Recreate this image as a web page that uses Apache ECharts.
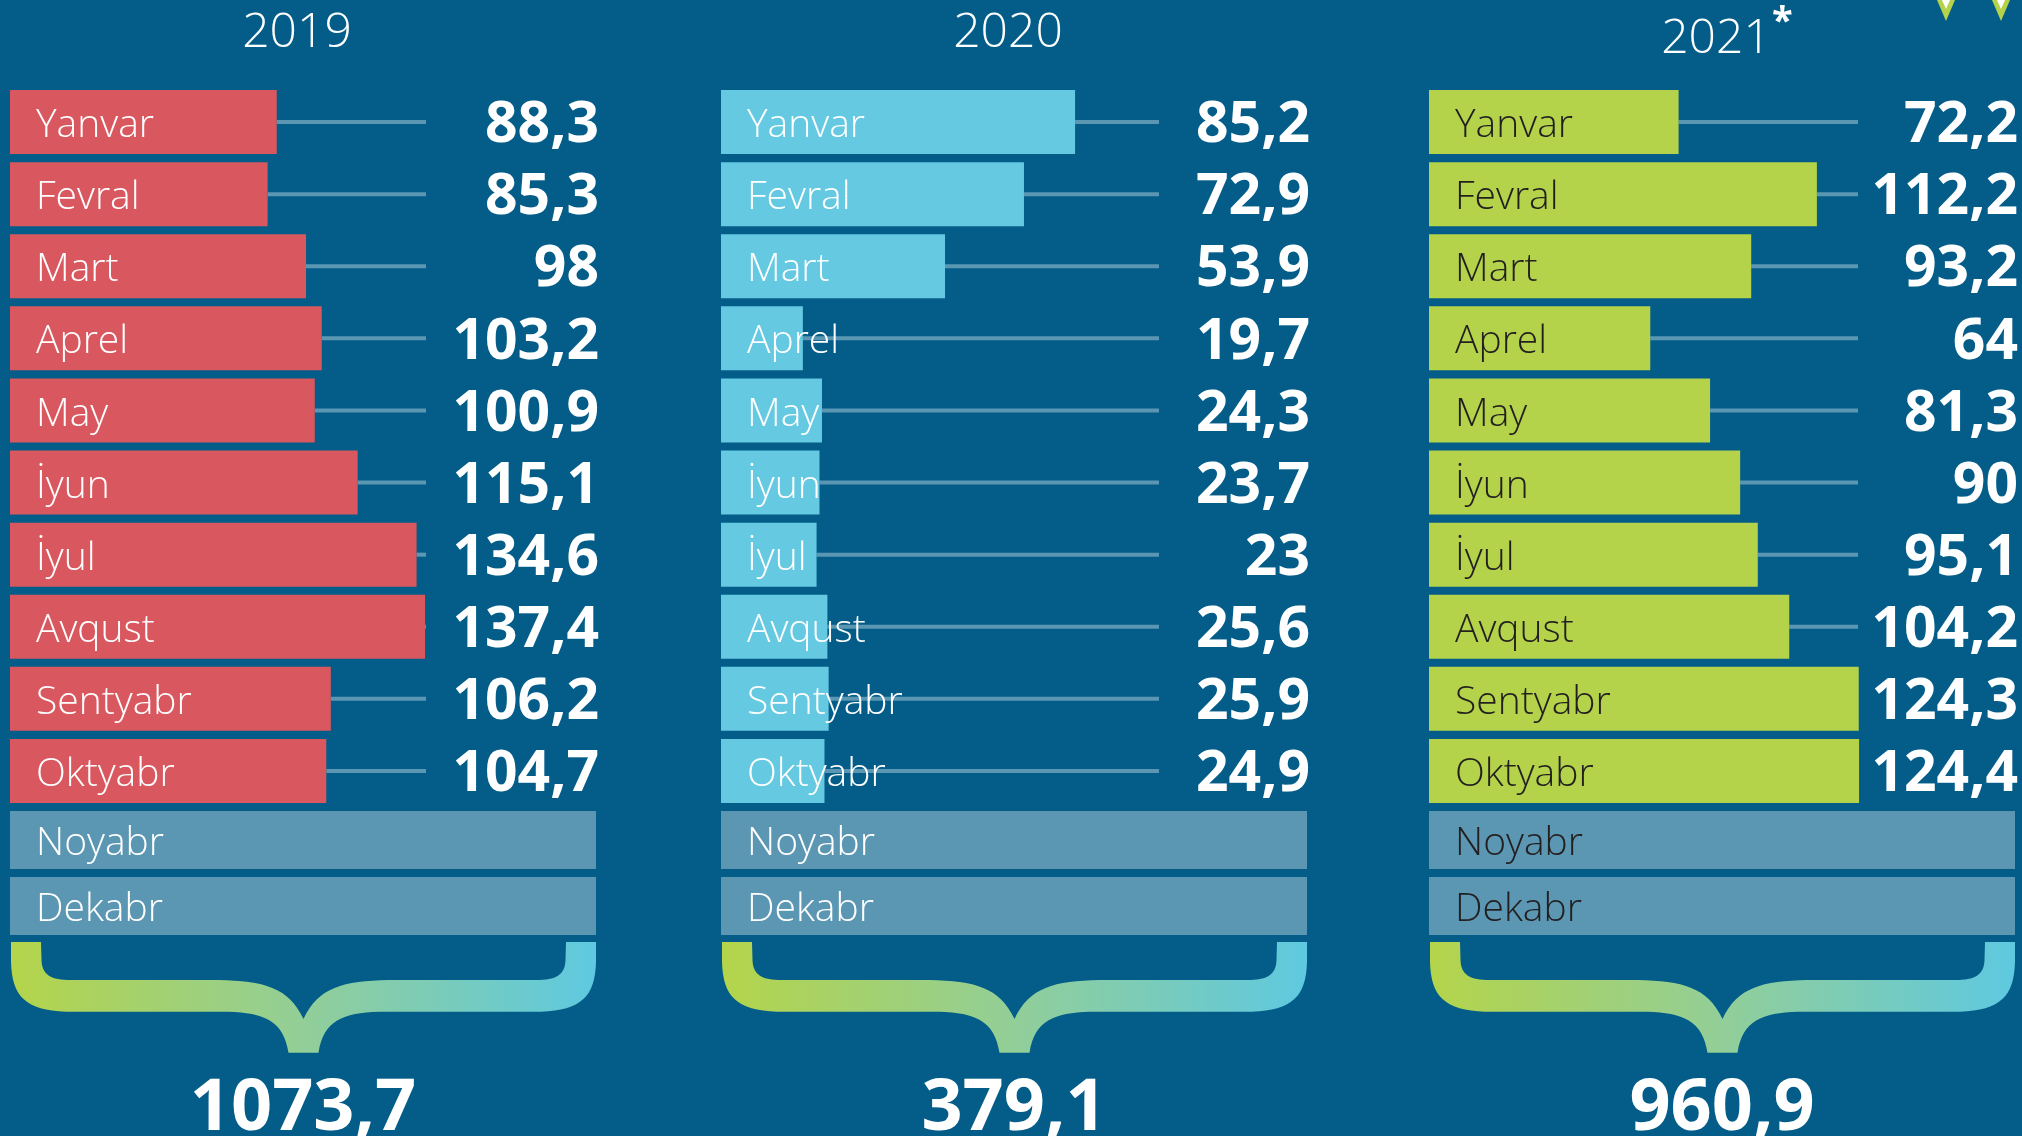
<!DOCTYPE html>
<html>
<head>
    <meta http-equiv="content-type" content="text/html;charset=utf-8" />
    <title>ECharts</title>
    <script src="https://cdn.jsdelivr.net/npm/echarts@6/dist/echarts.min.js"></script>
    <style>
        html, body { margin: 0; padding: 0; background: #035d88; }
    </style>
</head>
<body>
    <div id="main" style="width: 2022px;height:1136px;"></div>
    <script type="text/javascript">
        // data
        var months = ['Yanvar', 'Fevral', 'Mart', 'Aprel', 'May', 'İyun', 'İyul', 'Avqust', 'Sentyabr', 'Oktyabr'];
        var restMonths = ['Noyabr', 'Dekabr'];
        var years = ['2019', '2020', '2021'];
        var values2019 = [88.3, 85.3, 98, 103.2, 100.9, 115.1, 134.6, 137.4, 106.2, 104.7];
        var values2020 = [85.2, 72.9, 53.9, 19.7, 24.3, 23.7, 23, 25.6, 25.9, 24.9];
        var values2021 = [72.2, 112.2, 93.2, 64, 81.3, 90, 95.1, 104.2, 124.3, 124.4];
        var totals = [1073.7, 379.1, 960.9];

        // layout / style of the three panels
        var panels = [
            { left: 10, max: 194, gap: 170, color: '#d9585f', text: '#ffffff', values: values2019 },
            { left: 721, max: 141, gap: 148, color: '#64c9e1', text: '#ffffff', values: values2020 },
            { left: 1429, max: 169.5, gap: 157, color: '#b4d34a', text: '#231f20', values: values2021 }
        ];
        var W = 586;
        var restColor = '#5b97b3';
        var font = '"Open Sans", "Noto Sans", sans-serif';

        function fmt(v) { return String(v).replace('.', ','); }

        function bracePath(w) {
            var h = w / 2;
            return 'M' + (h - 15) + ',110.7 C' + (h - 20) + ',78 ' + (h - 40) + ',71 ' + (h - 75) + ',69.7 ' +
                'L55,69.7 C15,68 1,55 0,20 L0,0 L30,0 L30.5,18 C31,33 40,38 60,38 ' +
                'L' + (h - 85) + ',38 C' + (h - 40) + ',39 ' + (h - 15) + ',45 ' + h + ',77 ' +
                'C' + (h + 15) + ',45 ' + (h + 40) + ',39 ' + (h + 85) + ',38 ' +
                'L' + (w - 60) + ',38 C' + (w - 40) + ',38 ' + (w - 31) + ',33 ' + (w - 30.5) + ',18 ' +
                'L' + (w - 30) + ',0 L' + w + ',0 L' + w + ',20 ' +
                'C' + (w - 1) + ',55 ' + (w - 15) + ',68 ' + (w - 55) + ',69.7 ' +
                'L' + (h + 75) + ',69.7 C' + (h + 40) + ',71 ' + (h + 20) + ',78 ' + (h + 15) + ',110.7 Z';
        }

        var grids = [], xAxes = [], yAxes = [], series = [], graphics = [];

        panels.forEach(function (p, k) {
            var gMain = k * 2, gRest = k * 2 + 1;
            grids.push({ left: p.left, width: W, top: 86, height: 721 });
            grids.push({ left: p.left, width: W, top: 807, height: 132 });
            [gMain, gRest].forEach(function (g) {
                xAxes.push({ type: 'value', gridIndex: g, min: 0, max: p.max, show: false });
            });
            yAxes.push({ type: 'category', gridIndex: gMain, data: months, inverse: true, show: false });
            yAxes.push({ type: 'category', gridIndex: gRest, data: restMonths, inverse: true, show: false });

            var labelStyle = {
                show: true, position: 'insideLeft', distance: 26, offset: [0, 4], formatter: '{b}',
                color: p.text, fontFamily: font, fontWeight: 300, fontSize: 39
            };

            series.push({
                type: 'bar', xAxisIndex: gMain, yAxisIndex: gMain, z: 3,
                barWidth: 64, data: p.values,
                itemStyle: { color: p.color },
                label: labelStyle
            });
            // months without data: full-width grey-blue bars
            series.push({
                type: 'bar', xAxisIndex: gRest, yAxisIndex: gRest, z: 3,
                barWidth: 58, data: restMonths.map(function () { return p.max; }),
                itemStyle: { color: restColor },
                label: labelStyle
            });
            // leader lines and value labels
            series.push({
                type: 'custom', xAxisIndex: gMain, yAxisIndex: gMain, z: 2,
                data: p.values.map(function (v, i) { return [i, v]; }),
                encode: { x: 1, y: 0 },
                renderItem: function (params, api) {
                    var idx = api.value(0), v = api.value(1);
                    var p0 = api.coord([v, idx]);
                    var pm = api.coord([p.max, idx]);
                    var endX = pm[0] - p.gap;
                    var children = [];
                    if (p0[0] < endX) {
                        children.push({
                            type: 'line',
                            shape: { x1: p0[0], y1: p0[1], x2: endX, y2: p0[1] },
                            style: { stroke: restColor, lineWidth: 4 }
                        });
                    }
                    children.push({
                        type: 'text',
                        style: {
                            text: fmt(v), x: pm[0] + 3, y: p0[1] + 4,
                            align: 'right', verticalAlign: 'middle',
                            fill: '#ffffff', font: 'bold 57px ' + font
                        }
                    });
                    return { type: 'group', children: children };
                }
            });
            // brace under the bars, and the total under it
            series.push({
                type: 'custom', xAxisIndex: gRest, yAxisIndex: gRest, z: 2,
                data: [[0, totals[k]]],
                encode: { x: 1, y: 0 },
                renderItem: function (params, api) {
                    var left = api.coord([0, 1])[0];
                    var right = api.coord([p.max, 1])[0];
                    var w = right - left - 1;
                    return {
                        type: 'group',
                        children: [{
                            type: 'path',
                            shape: { pathData: bracePath(w), x: left + 1, y: 942, width: w, height: 110.7, layout: 'cover' },
                            style: {
                                fill: {
                                    type: 'linear', x: 0, y: 0, x2: 1, y2: 0,
                                    colorStops: [
                                        { offset: 0, color: '#b4d44a' },
                                        { offset: 0.5, color: '#92ce98' },
                                        { offset: 1, color: '#5ec9e0' }
                                    ]
                                }
                            }
                        }, {
                            type: 'text',
                            style: {
                                text: fmt(api.value(1)), x: (left + right) / 2, y: 1109,
                                align: 'center', verticalAlign: 'middle',
                                fill: '#ffffff', font: 'bold 72px ' + font
                            }
                        }]
                    };
                }
            });

            // year heading
            graphics.push({
                type: 'text', x: p.left + W / 2 - 6, y: k === 2 ? 39 : 33,
                style: {
                    text: years[k], align: 'center', verticalAlign: 'middle',
                    textAlign: 'center', textVerticalAlign: 'middle',
                    fill: '#ffffff', font: '300 48px ' + font
                }
            });
        });

        // asterisk on 2021
        graphics.push({
            type: 'text', x: 1772, y: 4,
            style: { text: '*', align: 'left', verticalAlign: 'top', textAlign: 'left', textVerticalAlign: 'top',
                     fill: '#ffffff', font: 'bold 38px ' + font }
        });
        // small green markers in the top right corner
        [1937, 1992].forEach(function (x) {
            graphics.push({
                type: 'polygon', shape: { points: [[x, 0], [x + 18, 0], [x + 9, 21]] },
                style: { fill: '#b4d34a' }
            });
            graphics.push({
                type: 'polygon', shape: { points: [[x + 5, 0], [x + 13, 0], [x + 9, 9]] },
                style: { fill: '#ffffff' }
            });
        });

        var myChart = echarts.init(document.getElementById('main'));
        var option = {
            backgroundColor: '#035d88',
            animation: false,
            grid: grids,
            xAxis: xAxes,
            yAxis: yAxes,
            series: series,
            graphic: { elements: graphics }
        };
        myChart.setOption(option);
    </script>
</body>
</html>
